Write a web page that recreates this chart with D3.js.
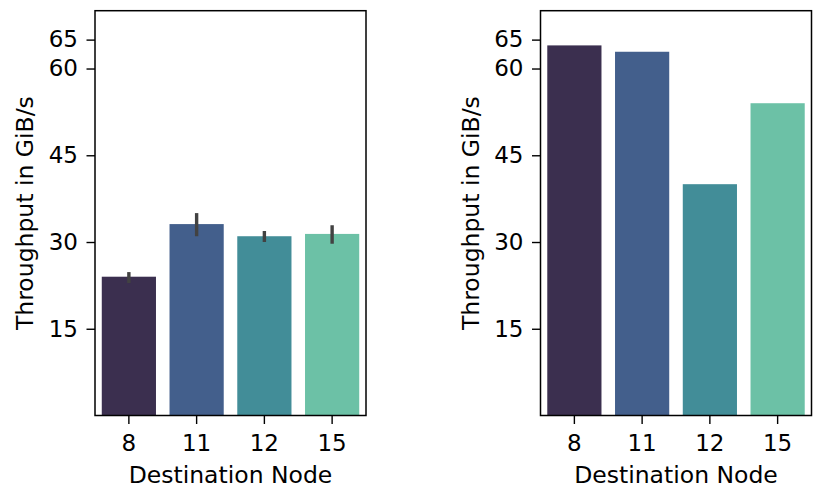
<!DOCTYPE html>
<html><head><meta charset="utf-8">
<script src="https://cdn.jsdelivr.net/npm/d3@7"></script>
<style>body{margin:0;background:#fff}svg{display:block}text{font-family:"DejaVu Sans",sans-serif}</style>
</head><body>
<svg id="c" width="817" height="489"></svg>
<script>
const categories = ["8","11","12","15"];
const leftValues = [24.0, 33.1, 31.0, 31.4];
const leftErrLow = [22.9, 31.0, 30.0, 29.7];
const leftErrHigh = [24.8, 35.0, 31.9, 32.9];
const rightValues = [64.0, 62.9, 40.0, 54.0];
const yTicks = [15, 30, 45, 60, 65];
const colors = ["#3b2f4f", "#435f8c", "#428d98", "#6cc1a6"];

const svg = d3.select("#c");
const plotTop = 10.7, plotBottom = 415.5;
const y = d3.scaleLinear().domain([0, 70]).range([plotBottom, plotTop]);

function panel(x0, x1, values, lo, hi) {
  const g = svg.append("g");
  const x = d3.scaleBand().domain(categories).range([x0, x1]).paddingInner(0.2).paddingOuter(0.1);
  g.selectAll("rect.bar").data(values).enter().append("rect")
    .attr("x", (d, i) => x(categories[i]))
    .attr("width", x.bandwidth())
    .attr("y", d => y(d))
    .attr("height", d => plotBottom - y(d))
    .attr("fill", (d, i) => colors[i]);
  if (lo) {
    g.selectAll("line.err").data(values).enter().append("line")
      .attr("x1", (d, i) => x(categories[i]) + x.bandwidth() / 2)
      .attr("x2", (d, i) => x(categories[i]) + x.bandwidth() / 2)
      .attr("y1", (d, i) => y(lo[i]))
      .attr("y2", (d, i) => y(hi[i]))
      .attr("stroke", "#424242").attr("stroke-width", 3.4);
  }
  const ya = g.append("g").attr("transform", `translate(${x0},0)`)
    .call(d3.axisLeft(y).tickValues(yTicks).tickSize(8.5).tickPadding(8.5));
  ya.select(".domain").remove();
  ya.selectAll("line").attr("stroke", "#000").attr("stroke-width", 1.4);
  ya.selectAll("text").attr("font-size", 23).attr("fill", "#000");
  const xa = g.append("g").attr("transform", `translate(0,${plotBottom})`)
    .call(d3.axisBottom(x).tickSize(8.5).tickPadding(10.5));
  xa.select(".domain").remove();
  xa.selectAll("line").attr("stroke", "#000").attr("stroke-width", 1.4);
  xa.selectAll("text").attr("font-size", 23).attr("fill", "#000");
  g.append("rect").attr("x", x0).attr("y", plotTop).attr("width", x1 - x0).attr("height", plotBottom - plotTop)
    .attr("fill", "none").attr("stroke", "#000").attr("stroke-width", 1.5);
  g.append("text").attr("x", (x0 + x1) / 2).attr("y", 483.3).attr("text-anchor", "middle")
    .attr("font-size", 23.5).text("Destination Node");
  g.append("text").attr("transform", `translate(${x0 - 62},${(plotTop + plotBottom) / 2}) rotate(-90)`)
    .attr("text-anchor", "middle").attr("font-size", 23.5).text("Throughput in GiB/s");
}
panel(95, 366, leftValues, leftErrLow, leftErrHigh);
panel(540.5, 811.5, rightValues, null, null);
</script>
</body></html>
